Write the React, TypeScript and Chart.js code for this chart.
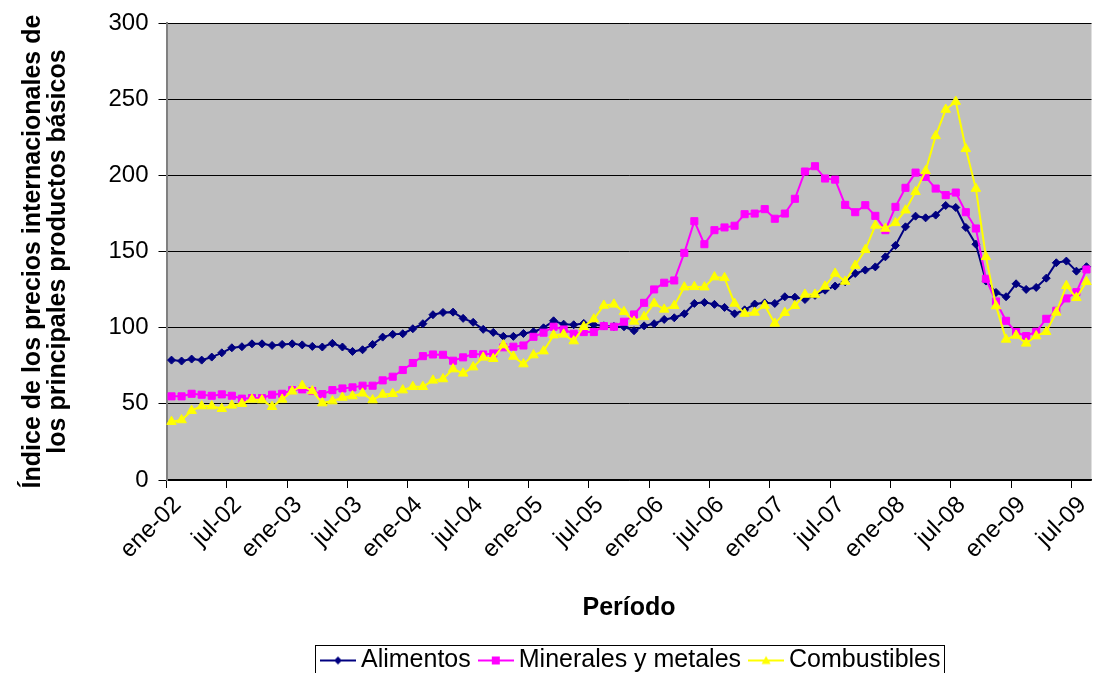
import React, { useEffect, useRef } from 'react';
import { Chart, registerables } from 'chart.js';

Chart.register(...registerables);

const FONT = '"Liberation Sans", Arial, Helvetica, sans-serif';

const MONTHS = ['ene', 'feb', 'mar', 'abr', 'may', 'jun', 'jul', 'ago', 'sep', 'oct', 'nov', 'dic'];
const YEARS = ['02', '03', '04', '05', '06', '07', '08', '09'];
const allMonths: string[] = [];
YEARS.forEach((y) => MONTHS.forEach((m) => allMonths.push(`${m}-${y}`)));
const categories = allMonths.slice(0, 92); // ene-02 .. ago-09

const seriesNames = ['Alimentos', 'Minerales y metales', 'Combustibles'];

const alimentos = [
  78.7, 78.1, 79.4, 78.7, 80.7, 83.5, 86.8, 87.5, 89.4, 89.4,
  88.3, 89.0, 89.4, 88.7, 87.7, 87.3, 89.7, 87.3, 84.4, 85.5,
  89.0, 93.8, 95.6, 96.0, 99.3, 102.6, 108.5, 110.0, 110.2, 106.1,
  103.5, 98.9, 96.9, 94.3, 94.3, 96.2, 97.3, 99.9, 104.5, 102.3,
  101.9, 102.8, 101.9, 101.2, 100.8, 100.6, 98.0, 101.2, 102.6, 105.4,
  106.5, 109.1, 115.9, 116.6, 115.3, 113.3, 109.1, 111.7, 115.5, 116.3,
  115.9, 120.3, 120.0, 118.5, 121.2, 124.6, 127.3, 130.1, 135.6, 137.8,
  139.9, 146.5, 154.0, 166.2, 173.2, 172.1, 173.9, 180.2, 178.9, 165.8,
  154.8, 130.6, 123.1, 120.3, 128.8, 125.1, 126.4, 132.5, 142.6, 143.7,
  137.1, 140.0,
];

const minerales = [
  54.9, 54.9, 56.6, 56.0, 55.3, 56.2, 55.3, 53.4, 53.8, 53.8,
  56.0, 56.6, 59.0, 59.5, 58.4, 56.4, 59.0, 60.1, 60.8, 61.9,
  61.9, 65.4, 67.8, 72.2, 76.8, 81.3, 82.4, 82.2, 78.3, 80.5,
  82.7, 82.4, 83.1, 87.1, 87.5, 88.3, 94.0, 96.7, 100.6, 98.8,
  96.0, 97.1, 97.1, 101.0, 100.6, 103.9, 108.7, 116.3, 125.1, 129.5,
  131.0, 149.1, 169.9, 154.8, 164.0, 165.8, 166.9, 174.5, 174.9, 177.8,
  171.5, 174.9, 184.6, 202.5, 206.0, 197.9, 197.2, 180.6, 175.8, 180.4,
  173.4, 164.0, 179.3, 191.8, 201.8, 199.0, 191.3, 187.0, 188.7, 175.8,
  165.1, 132.1, 117.2, 104.5, 97.1, 94.5, 97.3, 105.8, 111.1, 119.2,
  123.3, 138.2,
];

const combustibles = [
  38.3, 39.4, 45.5, 48.5, 48.5, 46.8, 49.0, 50.1, 52.9, 52.5,
  48.1, 52.9, 58.2, 61.9, 58.4, 50.5, 51.8, 54.2, 55.1, 56.9,
  52.5, 56.2, 56.6, 59.0, 61.2, 61.2, 65.4, 66.3, 72.8, 70.0,
  74.1, 80.5, 79.6, 88.6, 81.1, 76.1, 82.0, 84.6, 95.1, 95.6,
  91.2, 100.6, 105.6, 114.6, 115.3, 110.4, 104.1, 107.1, 115.9, 112.0,
  114.4, 126.6, 126.8, 126.6, 133.2, 132.7, 115.9, 109.3, 110.0, 114.6,
  102.8, 109.8, 114.4, 121.8, 121.8, 127.1, 135.6, 130.3, 140.8, 151.1,
  167.1, 165.1, 168.8, 177.1, 189.2, 202.9, 225.9, 243.2, 248.4, 217.4,
  191.3, 146.5, 114.2, 92.3, 94.9, 89.7, 94.5, 97.3, 110.0, 127.5,
  119.6, 130.1,
];

const Y_MIN = 0;
const Y_MAX = 300;
const Y_STEP = 50;
const LABEL_EVERY = 6;

const COLORS = ['#000080', '#FF00FF', '#FFFF00'];

function makeIcon(color: string, kind: string): HTMLCanvasElement {
  const c = document.createElement('canvas');
  c.width = 36;
  c.height = 14;
  const ctx = c.getContext('2d')!;
  ctx.strokeStyle = color;
  ctx.lineWidth = 2;
  ctx.beginPath();
  ctx.moveTo(0, 7);
  ctx.lineTo(36, 7);
  ctx.stroke();
  ctx.fillStyle = color;
  ctx.beginPath();
  if (kind === 'diamond') {
    ctx.moveTo(18, 3);
    ctx.lineTo(22, 7);
    ctx.lineTo(18, 11);
    ctx.lineTo(14, 7);
  } else if (kind === 'square') {
    ctx.rect(14, 3, 8, 8);
  } else {
    ctx.moveTo(18, 2.5);
    ctx.lineTo(22.5, 10.5);
    ctx.lineTo(13.5, 10.5);
  }
  ctx.closePath();
  ctx.fill();
  return c;
}

const plotBg = {
  id: 'plotBg',
  beforeDraw(chart: any) {
    const { ctx, chartArea: a } = chart;
    ctx.save();
    ctx.fillStyle = '#C0C0C0';
    ctx.fillRect(a.left, a.top, a.right - a.left, a.bottom - a.top);
    ctx.restore();
  },
};

const LEGEND_SHIFT = 5;

const legendBorder = {
  id: 'legendBorder',
  afterLayout(chart: any) {
    const lg = chart.legend;
    if (!lg) return;
    lg.left += LEGEND_SHIFT;
    lg.right += LEGEND_SHIFT;
    if (lg.legendHitBoxes) lg.legendHitBoxes.forEach((h: any) => { h.left += LEGEND_SHIFT; });
  },
  afterDraw(chart: any) {
    const lg = chart.legend;
    const hb = lg && lg.legendHitBoxes;
    if (!hb || !hb.length) return;
    const first = hb[0];
    const last = hb[hb.length - 1];
    const left = first.left - 12;
    const right = last.left + last.width + 4;
    const cy = first.top + first.height / 2;
    const ctx = chart.ctx;
    ctx.save();
    ctx.strokeStyle = '#000';
    ctx.lineWidth = 1;
    ctx.strokeRect(Math.round(left) + 0.5, Math.round(cy - 16) + 0.5, Math.round(right - left), 34);
    ctx.restore();
  },
};

export default function App() {
  const ref = useRef<HTMLCanvasElement>(null);

  useEffect(() => {
    if (!ref.current) return;
    const icons = [
      makeIcon(COLORS[0], 'diamond'),
      makeIcon(COLORS[1], 'square'),
      makeIcon(COLORS[2], 'triangle'),
    ];
    const chart = new Chart(ref.current, {
      type: 'line',
      data: {
        labels: categories,
        datasets: [
          {
            label: seriesNames[0],
            data: alimentos,
            borderColor: COLORS[0],
            backgroundColor: COLORS[0],
            borderWidth: 2,
            pointStyle: 'rectRot',
            pointRadius: 4,
            pointBorderWidth: 1,
            pointBackgroundColor: COLORS[0],
            pointBorderColor: COLORS[0],
            tension: 0,
            order: 3,
          },
          {
            label: seriesNames[1],
            data: minerales,
            borderColor: COLORS[1],
            backgroundColor: COLORS[1],
            borderWidth: 2,
            pointStyle: 'rect',
            pointRadius: 5,
            pointBorderWidth: 1,
            pointBackgroundColor: COLORS[1],
            pointBorderColor: COLORS[1],
            tension: 0,
            order: 2,
          },
          {
            label: seriesNames[2],
            data: combustibles,
            borderColor: COLORS[2],
            backgroundColor: COLORS[2],
            borderWidth: 2,
            pointStyle: 'triangle',
            pointRadius: 5.5,
            pointBorderWidth: 1,
            pointBackgroundColor: COLORS[2],
            pointBorderColor: COLORS[2],
            tension: 0,
            order: 1,
          },
        ],
      },
      options: {
        animation: false,
        responsive: true,
        maintainAspectRatio: false,
        layout: { padding: { top: 23, left: 0, right: 0, bottom: 0 } },
        plugins: {
          tooltip: { enabled: false },
          legend: {
            display: true,
            position: 'bottom',
            fullSize: false,
            labels: {
              usePointStyle: true,
              pointStyleWidth: 21,
              padding: 14.5,
              color: '#000',
              font: { family: FONT, size: 25 },
              generateLabels: (ch: any) =>
                ch.data.datasets.map((ds: any, i: number) => ({
                  text: ds.label,
                  fillStyle: ds.borderColor,
                  strokeStyle: ds.borderColor,
                  lineWidth: 0,
                  hidden: false,
                  datasetIndex: i,
                  pointStyle: icons[i],
                  fontColor: '#000',
                })),
            },
          },
        },
        scales: {
          x: {
            type: 'category',
            offset: true,
            grid: {
              display: true,
              offset: true,
              drawOnChartArea: false,
              drawTicks: true,
              tickLength: 8,
              tickWidth: 1,
              tickColor: (c: any) => (c.index % LABEL_EVERY === 0 ? '#000' : 'rgba(0,0,0,0)'),
            },
            border: { display: true, color: '#000', width: 1.5 },
            ticks: {
              autoSkip: false,
              minRotation: 45,
              maxRotation: 45,
              padding: 3,
              labelOffset: 6,
              color: '#000',
              font: { family: FONT, size: 24 },
              callback: (_v: any, i: number) => (i % LABEL_EVERY === 0 ? categories[i] : ''),
            },
            title: {
              display: true,
              text: 'Período',
              color: '#000',
              font: { family: FONT, size: 25, weight: 'bold', lineHeight: 1.2 },
              padding: { top: 0, bottom: 10 },
            },
            afterFit: (s: any) => {
              s.height = 153.5;
              s.paddingLeft = 0;
              s.paddingRight = 0;
            },
          },
          y: {
            min: Y_MIN,
            max: Y_MAX,
            ticks: {
              stepSize: Y_STEP,
              color: '#000',
              padding: 10,
              font: { family: FONT, size: 24 },
            },
            grid: { color: '#000', lineWidth: 1, tickLength: 8, tickColor: '#000' },
            border: { display: true, color: '#808080', width: 2 },
            title: {
              display: true,
              text: ['Índice de los precios internacionales de', 'los principales productos básicos'],
              color: '#000',
              font: { family: FONT, size: 25, weight: 'bold', lineHeight: 1.0 },
              padding: { top: 21, bottom: 0 },
            },
            afterFit: (s: any) => {
              s.width = 166.5;
              s.paddingTop = 0;
              s.paddingBottom = 0;
            },
          },
        },
      },
      plugins: [plotBg, legendBorder],
    } as any);
    return () => chart.destroy();
  }, []);

  return (
    <div
      style={{
        position: 'fixed',
        left: 0,
        top: 0,
        width: 1093,
        height: 673,
        overflow: 'hidden',
        background: '#fff',
      }}
    >
      <div style={{ position: 'relative', width: 1098, height: 683 }}>
        <canvas ref={ref} />
      </div>
    </div>
  );
}
